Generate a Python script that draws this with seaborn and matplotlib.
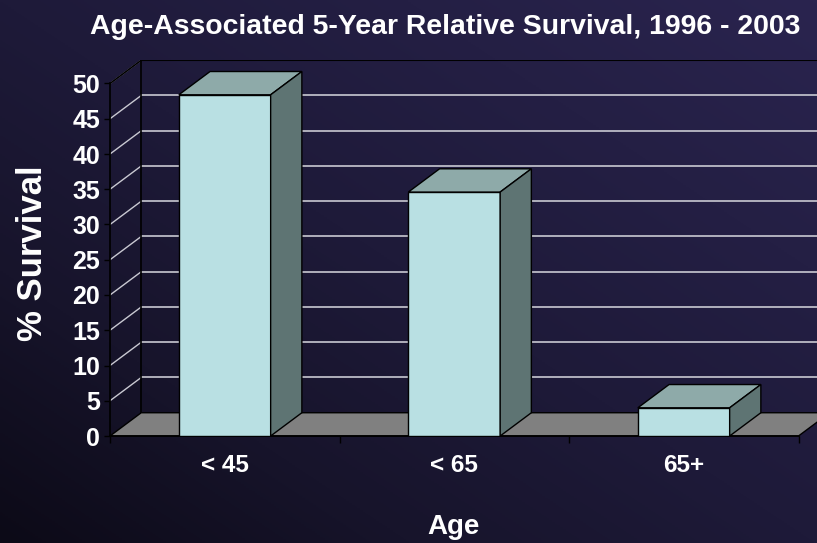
import numpy as np
import pandas as pd
import matplotlib
matplotlib.use("Agg")
import matplotlib.pyplot as plt
from matplotlib.patches import Polygon
from matplotlib.colors import LinearSegmentedColormap
import seaborn as sns

# ---- data ----
age_groups = ["< 45", "< 65", "65+"]
survival = [48.4, 34.6, 4.0]
y_ticks = [0, 5, 10, 15, 20, 25, 30, 35, 40, 45, 50]

title = "Age-Associated 5-Year Relative Survival, 1996 - 2003"
x_label = "Age"
y_label = "% Survival"

# ---- style ----
sns.set_theme(style="white")
plt.rcParams["font.family"] = ["Liberation Sans", "DejaVu Sans"]

FRONT = "#b9e0e3"
TOP = "#8eaaa9"
SIDE = "#5e7473"
FLOOR = "#808080"
GRID = "#c9c9d2"
DX, DY = 0.136, 3.3   # depth offset in data units

fig = plt.figure(figsize=(8.17, 5.43), dpi=100)

# background gradient (dark at bottom-left, lighter at top-right)
bg = fig.add_axes([0, 0, 1, 1], zorder=-10)
yy, xx = np.mgrid[0:1:300j, 0:1:300j]
t = np.clip(0.5 * xx + 0.5 * (1 - yy), 0, 1)
cmap = LinearSegmentedColormap.from_list(
    "bg", [(0.0, "#0c0a17"), (0.25, "#17142b"), (0.5, "#1e1a39"), (1.0, "#2a244f")])
bg.imshow(t, cmap=cmap, aspect="auto", origin="upper", extent=[0, 1, 0, 1])
bg.axis("off")

ax = fig.add_axes([110 / 817, 107 / 543, 707 / 817, 376 / 543])
ax.set_facecolor("none")

df = pd.DataFrame({"age": age_groups, "survival": survival})
sns.barplot(data=df, x="age", y="survival", color=FRONT, width=0.40,
            saturation=1, edgecolor="black", linewidth=1.0, ax=ax, zorder=5)
bar_patches = list(ax.patches)

ax.set_xlim(-0.5, -0.5 + 707 / 229.5)
ax.set_ylim(0, 376 / 7.05)

n = len(age_groups)
x0, x1 = -0.5, n - 0.5

# floor
ax.add_patch(Polygon([(x0, 0), (x1, 0), (x1 + DX, DY), (x0 + DX, DY)],
                     closed=True, facecolor=FLOOR, edgecolor="black",
                     linewidth=1.0, zorder=2, clip_on=False))

# back-wall gridlines and left-wall diagonals
for v in y_ticks[1:]:
    ax.plot([x0 + DX, 3.0], [v + DY, v + DY], color=GRID, lw=1.2, zorder=1)
    ax.plot([x0, x0 + DX], [v, v + DY], color=GRID, lw=1.0, zorder=1)
# wall edges
top_v = y_ticks[-1]
ax.plot([x0 + DX, x0 + DX], [DY, top_v + DY], color="black", lw=1.2, zorder=1.5)
ax.plot([x0 + DX, 3.0], [top_v + DY, top_v + DY], color="black", lw=1.5, zorder=1.5)
ax.plot([x0, x0 + DX], [top_v, top_v + DY], color="black", lw=1.2, zorder=1.5)

# 3D faces of bars, derived from seaborn's bar patches
for p in bar_patches:
    bx, bw, bh = p.get_x(), p.get_width(), p.get_height()
    if bh <= 0:
        continue
    top = Polygon([(bx, bh), (bx + bw, bh), (bx + bw + DX, bh + DY), (bx + DX, bh + DY)],
                  closed=True, facecolor=TOP, edgecolor="black", lw=1.0, zorder=5)
    side = Polygon([(bx + bw, 0), (bx + bw + DX, DY), (bx + bw + DX, bh + DY), (bx + bw, bh)],
                   closed=True, facecolor=SIDE, edgecolor="black", lw=1.0, zorder=5)
    ax.add_patch(top)
    ax.add_patch(side)

# axes, spines, ticks
for s in ["top", "right"]:
    ax.spines[s].set_visible(False)
ax.spines["left"].set_bounds(0, top_v)
ax.spines["bottom"].set_bounds(x0, x1)
ax.spines["left"].set_color("black")
ax.spines["bottom"].set_color("black")
ax.spines["left"].set_zorder(6)
ax.set_yticks(y_ticks)
ax.tick_params(axis="y", which="major", left=True, length=4, width=1, color="black",
               labelcolor="white", labelsize=18, pad=3)
for lbl in ax.get_yticklabels():
    lbl.set_fontweight("bold")
ax.set_xticks(range(n))
ax.set_xticklabels(age_groups)
ax.set_xticks([x0 + i for i in range(n + 1)], minor=True)
ax.tick_params(axis="x", which="major", length=0, labelcolor="white", labelsize=17.5, pad=13)
ax.tick_params(axis="x", which="minor", bottom=True, length=5, width=1, color="black")
for lbl in ax.get_xticklabels():
    lbl.set_fontweight("bold")

ax.set_xlabel("")
ax.set_ylabel("")
fig.text(453 / 817, 1 - 527 / 543, x_label, color="white", fontsize=20,
         fontweight="bold", ha="center", va="center")
fig.text(33 / 817, 1 - 253 / 543, y_label, color="white", fontsize=25,
         fontweight="bold", ha="center", va="center", rotation=90)
fig.text(445 / 817, 1 - 27 / 543, title, color="white", fontsize=20.4,
         fontweight="bold", ha="center", va="center")

fig.savefig("out.png", dpi=100)
